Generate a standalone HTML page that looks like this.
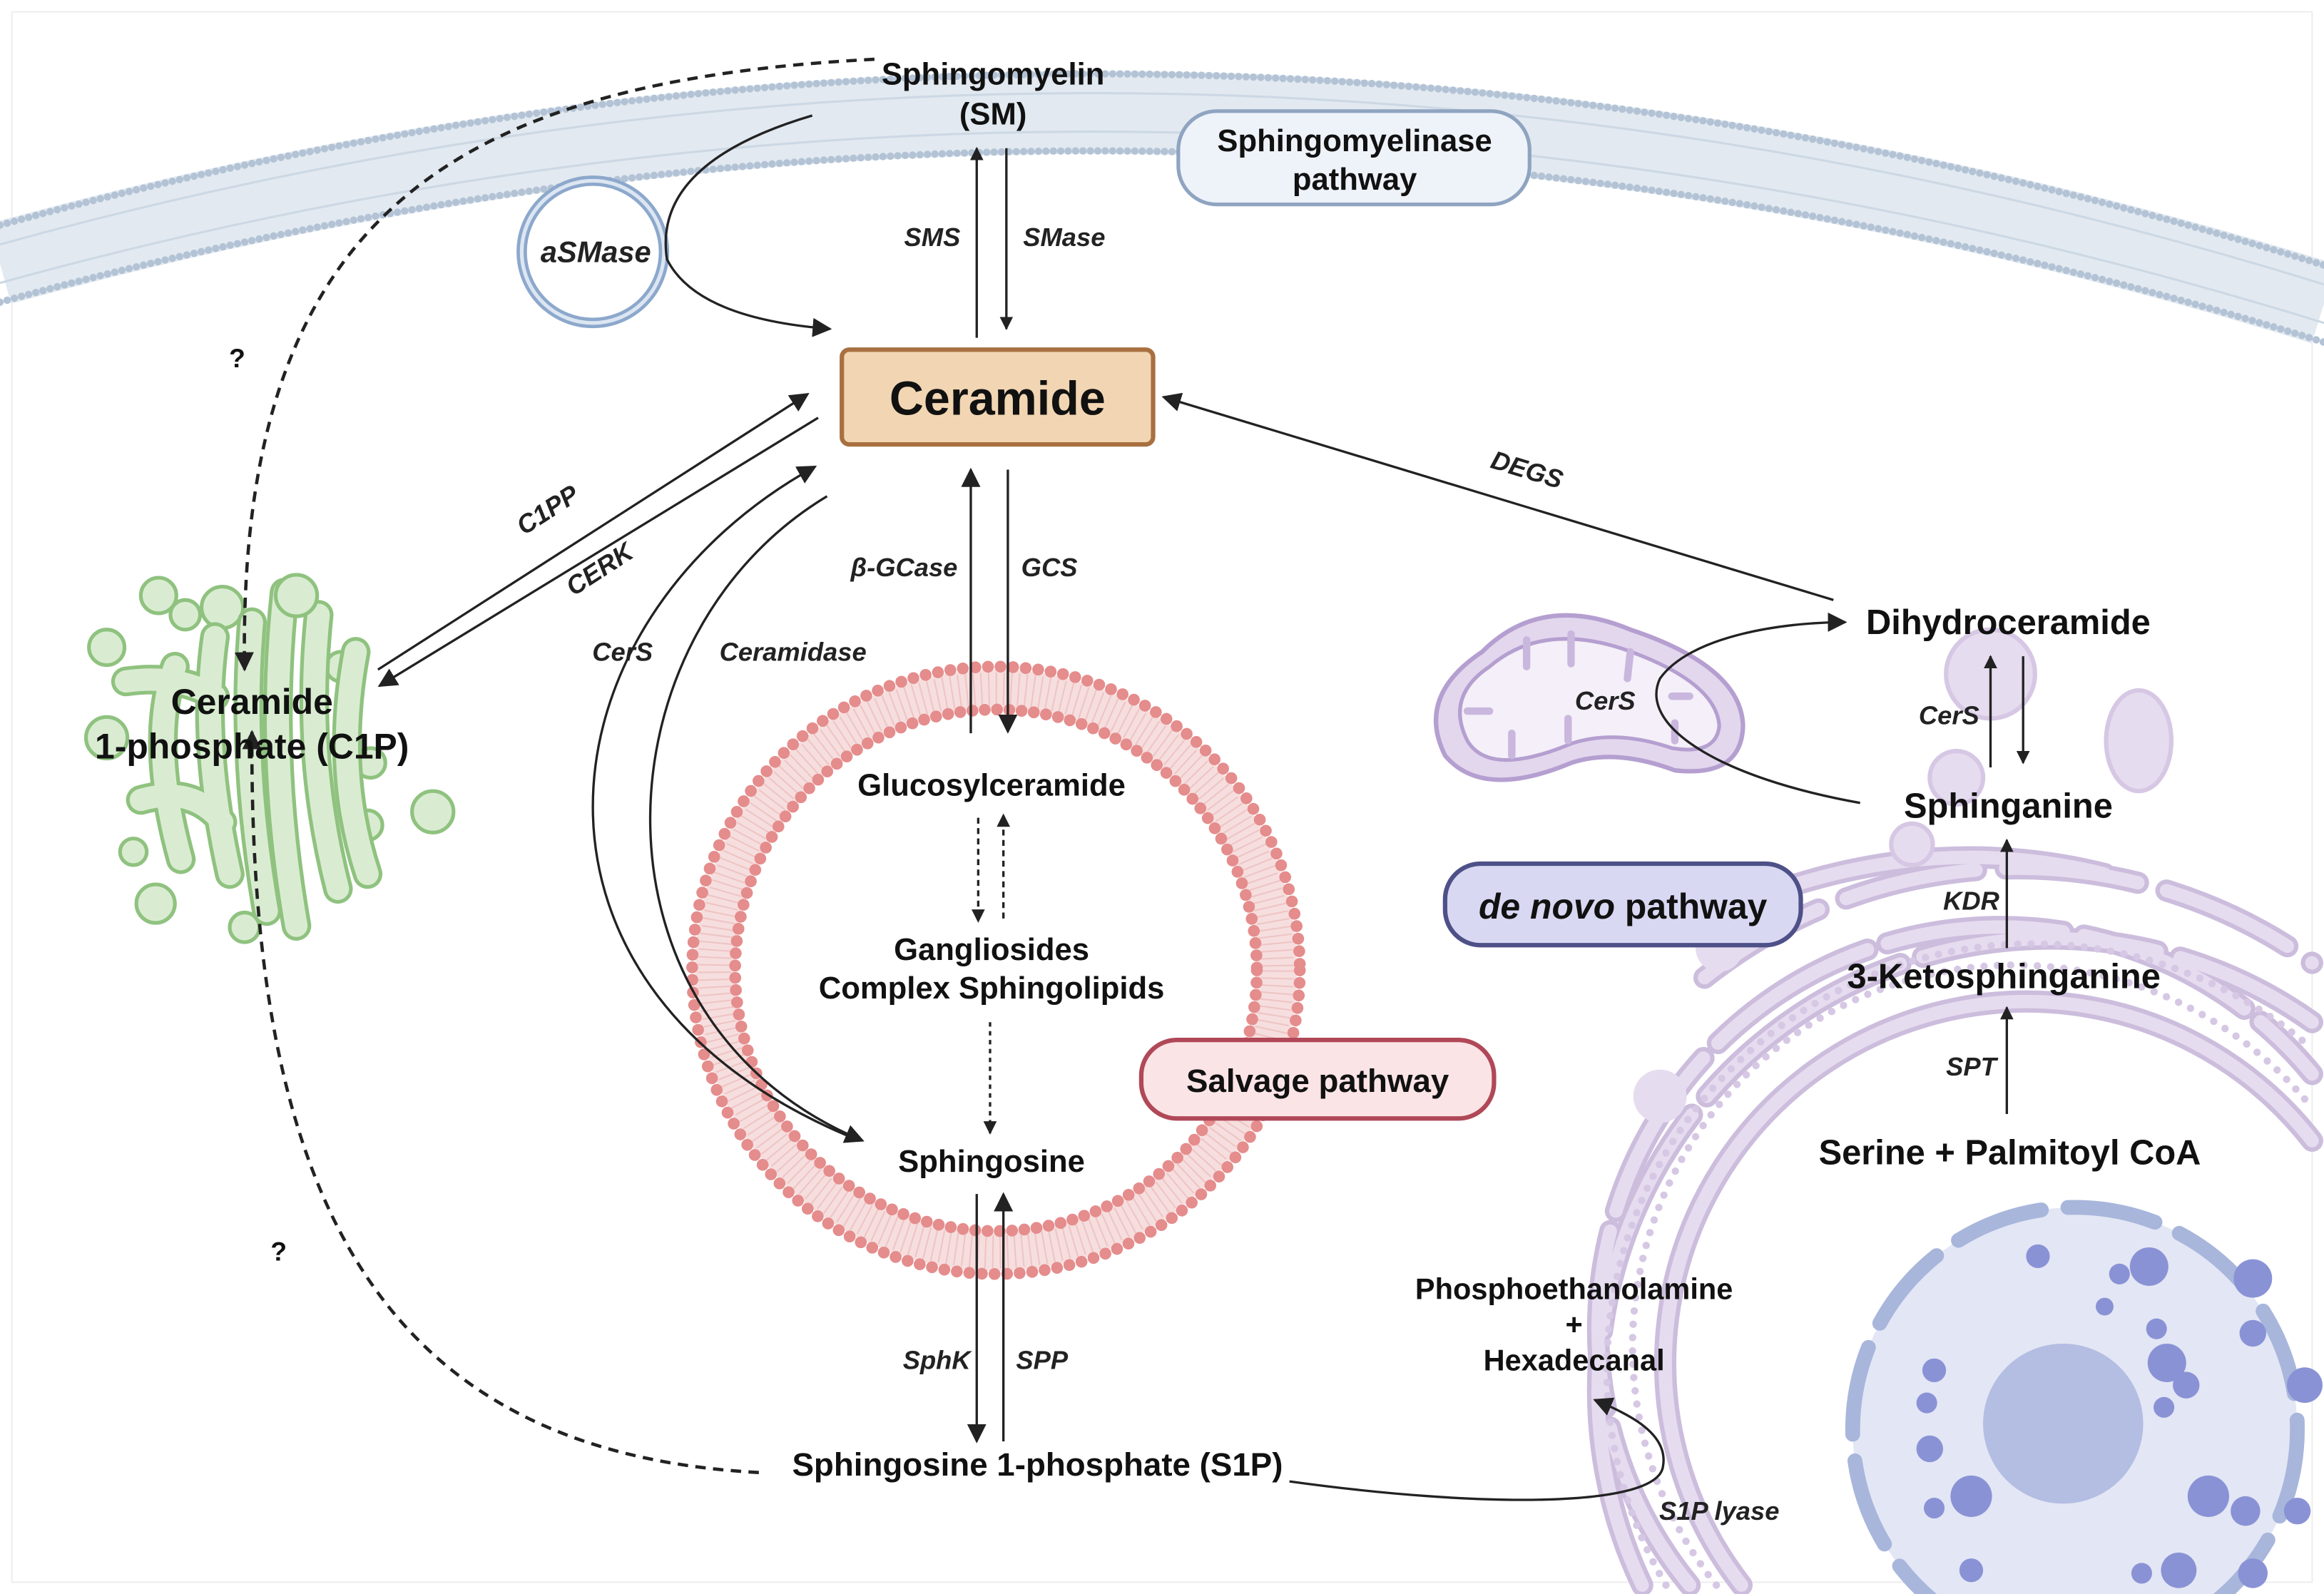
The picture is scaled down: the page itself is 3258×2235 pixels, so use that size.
<!DOCTYPE html>
<html><head><meta charset="utf-8"><style>
html,body{margin:0;padding:0;background:#fff;}
svg{display:block;}
text{font-family:"Liberation Sans",sans-serif;fill:#111;}
.b{font-weight:bold;font-size:21px;}
.i{font-style:italic;font-weight:bold;font-size:17.5px;fill:#222;}
</style></head><body>
<svg width="3258" height="2235" viewBox="0 0 1568 1076" preserveAspectRatio="none" xmlns="http://www.w3.org/2000/svg">
<defs>
<marker id="a" viewBox="0 0 10 10" refX="9" refY="5" markerWidth="9" markerHeight="9" markerUnits="userSpaceOnUse" orient="auto"><path d="M0,0 L10,5 L0,10 z" fill="#222"/></marker>
<marker id="A" viewBox="0 0 10 10" refX="9" refY="5" markerWidth="13" markerHeight="13" markerUnits="userSpaceOnUse" orient="auto"><path d="M0,0 L10,5 L0,10 z" fill="#222"/></marker>
</defs>
<rect x="0" y="0" width="1568" height="1076" fill="#fff"/>
<rect x="8" y="8" width="1552" height="1060" fill="none" stroke="#eee" stroke-width="1"/>

<!-- plasma membrane -->
<path d="M0 178 Q784 -39 1568 205" fill="none" stroke="#e2e9f0" stroke-width="56"/>
<path d="M0 152 Q784 -65 1568 179" fill="none" stroke="#b3c3d5" stroke-width="5" stroke-dasharray="0 5" stroke-linecap="round"/>
<path d="M0 204 Q784 -13 1568 231" fill="none" stroke="#b3c3d5" stroke-width="5" stroke-dasharray="0 5" stroke-linecap="round"/>
<path d="M0 165 Q784 -52 1568 192" fill="none" stroke="#ccd8e4" stroke-width="1.5"/>
<path d="M0 191 Q784 -26 1568 218" fill="none" stroke="#ccd8e4" stroke-width="1.5"/>

<!-- ER + nucleus -->
<g fill="none" stroke-linecap="round">
<g stroke="#ccbddd" stroke-width="15">
<path d="M1175 1070 A235 235 0 0 1 1560 770"/>
<path d="M1140 1070 A270 270 0 0 1 1560 725" stroke-dasharray="120 14"/>
<path d="M1108 1070 A305 305 0 0 1 1560 690" stroke-dasharray="160 16"/>
<path d="M1150 660 A340 340 0 0 1 1560 650" stroke-dasharray="90 20"/>
<path d="M1175 610 Q1300 560 1420 590" />
</g>
<g stroke="#e6dcef" stroke-width="9">
<path d="M1175 1070 A235 235 0 0 1 1560 770"/>
<path d="M1140 1070 A270 270 0 0 1 1560 725" stroke-dasharray="120 14"/>
<path d="M1108 1070 A305 305 0 0 1 1560 690" stroke-dasharray="160 16"/>
<path d="M1150 660 A340 340 0 0 1 1560 650" stroke-dasharray="90 20"/>
<path d="M1175 610 Q1300 560 1420 590" />
</g>
<path d="M1158 1070 A252 252 0 0 1 1560 748" stroke="#d6c8e4" stroke-width="5" stroke-dasharray="0 9"/>
<path d="M1124 1070 A287 287 0 0 1 1560 708" stroke="#d6c8e4" stroke-width="5" stroke-dasharray="0 9"/>
</g>
<circle cx="1320" cy="525" r="18" fill="#e6dcef" stroke="#d6c8e4" stroke-width="3"/>
<circle cx="1290" cy="570" r="14" fill="#e6dcef" stroke="#d6c8e4" stroke-width="3"/>
<circle cx="1343" cy="455" r="30" fill="#e6dcef" stroke="#d6c8e4" stroke-width="3"/>
<ellipse cx="1443" cy="500" rx="22" ry="34" fill="#e6dcef" stroke="#d6c8e4" stroke-width="3"/>
<circle cx="1160" cy="640" r="16" fill="#e6dcef"/>
<circle cx="1120" cy="740" r="18" fill="#e6dcef"/>
<circle cx="1400" cy="965" r="150" fill="#e3e6f4"/>
<circle cx="1400" cy="965" r="150" fill="none" stroke="#a8b6dc" stroke-width="10" stroke-dasharray="60 18" stroke-linecap="round"/>
<circle cx="1392" cy="961" r="54" fill="#b4bde2"/>
<g fill="#8a92d6">
<circle cx="1375" cy="848" r="8"/><circle cx="1450" cy="855" r="13"/><circle cx="1430" cy="860" r="7"/><circle cx="1520" cy="863" r="13"/>
<circle cx="1420" cy="882" r="6"/><circle cx="1520" cy="900" r="9"/><circle cx="1305" cy="925" r="8"/><circle cx="1300" cy="947" r="7"/>
<circle cx="1302" cy="978" r="9"/><circle cx="1462" cy="920" r="13"/><circle cx="1475" cy="935" r="9"/><circle cx="1455" cy="897" r="7"/>
<circle cx="1555" cy="935" r="12"/><circle cx="1460" cy="950" r="7"/><circle cx="1330" cy="1010" r="14"/><circle cx="1490" cy="1010" r="14"/>
<circle cx="1515" cy="1020" r="10"/><circle cx="1305" cy="1018" r="7"/><circle cx="1550" cy="1020" r="9"/><circle cx="1330" cy="1060" r="8"/>
<circle cx="1470" cy="1060" r="12"/><circle cx="1445" cy="1062" r="7"/><circle cx="1520" cy="1062" r="10"/>
</g>

<!-- mitochondrion -->
<path d="M1000 440 Q1040 400 1100 425 Q1175 450 1176 490 Q1175 525 1130 520 Q1090 505 1060 515 Q1000 540 975 510 Q955 470 1000 440 Z" fill="#e3d7ee" stroke="#b59fd0" stroke-width="3"/>
<path d="M1005 450 Q1040 420 1095 438 Q1158 460 1160 490 Q1158 510 1128 505 Q1090 492 1060 502 Q1005 525 990 500 Q975 470 1005 450 Z" fill="#f4eff8" stroke="#b59fd0" stroke-width="2.5"/>
<g stroke="#c9b7de" stroke-width="5" stroke-linecap="round" fill="none">
<path d="M1030 432 L1030 450"/><path d="M1060 428 L1060 448"/><path d="M1100 440 L1098 458"/><path d="M1128 470 L1140 470"/>
<path d="M990 480 L1005 480"/><path d="M1020 510 L1020 495"/><path d="M1058 500 L1058 485"/><path d="M1130 500 L1130 488"/>
</g>

<!-- Golgi -->
<g stroke="#8fc27f" stroke-width="2.5" fill="#d9ecd1">
<circle cx="107" cy="402" r="12"/><circle cx="125" cy="415" r="10"/><circle cx="72" cy="437" r="12"/><circle cx="72" cy="498" r="14"/>
<circle cx="90" cy="575" r="9"/><circle cx="105" cy="610" r="13"/><circle cx="165" cy="626" r="10"/><circle cx="248" cy="557" r="10"/>
<circle cx="292" cy="548" r="14"/><circle cx="230" cy="450" r="10"/><circle cx="250" cy="515" r="10"/><circle cx="150" cy="410" r="14"/>
</g>
<g fill="none" stroke-linecap="round">
<g stroke="#8fc27f" stroke-width="20">
<path d="M192 400 Q180 510 200 625"/><path d="M215 415 Q205 510 228 600"/><path d="M240 440 Q225 520 248 590"/>
<path d="M170 420 Q162 510 180 615"/><path d="M145 430 Q135 500 155 590"/><path d="M118 450 Q100 500 122 580"/>
<path d="M85 460 Q120 455 145 470"/><path d="M95 540 Q130 530 150 555"/>
</g>
<g stroke="#d9ecd1" stroke-width="15">
<path d="M192 400 Q180 510 200 625"/><path d="M215 415 Q205 510 228 600"/><path d="M240 440 Q225 520 248 590"/>
<path d="M170 420 Q162 510 180 615"/><path d="M145 430 Q135 500 155 590"/><path d="M118 450 Q100 500 122 580"/>
<path d="M85 460 Q120 455 145 470"/><path d="M95 540 Q130 530 150 555"/>
</g>
</g>
<circle cx="200" cy="402" r="14" fill="#d9ecd1" stroke="#8fc27f" stroke-width="2.5"/>

<!-- lysosome ring -->
<circle cx="672" cy="655" r="190" fill="none" stroke="#f6dede" stroke-width="26"/>
<circle cx="672" cy="655" r="190" fill="none" stroke="#efc4c4" stroke-width="22" stroke-dasharray="1 4"/>
<circle cx="672" cy="655" r="205" fill="none" stroke="#e58c8c" stroke-width="8" stroke-dasharray="0 8.5" stroke-linecap="round"/>
<circle cx="672" cy="655" r="176" fill="none" stroke="#e58c8c" stroke-width="8" stroke-dasharray="0 8.3" stroke-linecap="round"/>

<!-- aSMase vesicle -->
<circle cx="400" cy="170" r="48" fill="#fff" stroke="#8ca8cc" stroke-width="7"/>
<circle cx="400" cy="170" r="48" fill="none" stroke="#dce6f2" stroke-width="2.5"/>
<text x="402" y="177" class="i" text-anchor="middle" style="font-size:20px">aSMase</text>

<!-- pathway labels -->
<rect x="795" y="75" width="237" height="63" rx="26" fill="#eef3fa" stroke="#8fa4c0" stroke-width="2.5"/>
<text x="914" y="102" class="b" text-anchor="middle">Sphingomyelinase</text>
<text x="914" y="128" class="b" text-anchor="middle">pathway</text>
<rect x="975" y="583" width="240" height="55" rx="24" fill="#d9d8f2" stroke="#4e5088" stroke-width="3"/>
<text x="1095" y="620" class="b" text-anchor="middle" style="font-size:24px"><tspan font-style="italic">de novo</tspan> pathway</text>
<rect x="770" y="702" width="238" height="53" rx="24" fill="#fbe4e6" stroke="#b04858" stroke-width="3"/>
<text x="889" y="737" class="b" text-anchor="middle" style="font-size:22px">Salvage pathway</text>

<!-- Ceramide box -->
<rect x="568" y="236" width="210" height="64" rx="5" fill="#f2d6b3" stroke="#a87040" stroke-width="3"/>
<text x="673" y="280" text-anchor="middle" font-weight="bold" font-size="32">Ceramide</text>

<!-- arrows -->
<g stroke="#222" stroke-width="1.6" fill="none">
<line x1="659" y1="228" x2="659" y2="100" marker-end="url(#a)"/>
<line x1="679" y1="100" x2="679" y2="222" marker-end="url(#a)"/>
<path d="M548 78 Q440 110 450 175 Q470 215 560 222" marker-end="url(#A)"/>
<line x1="255" y1="452" x2="545" y2="266" marker-end="url(#A)"/>
<line x1="552" y1="282" x2="256" y2="463" marker-end="url(#A)"/>
<path d="M580 770 C330 670 360 420 550 315" marker-end="url(#A)"/>
<path d="M558 335 C400 430 390 690 582 770" marker-end="url(#A)"/>
<line x1="655" y1="495" x2="655" y2="317" marker-end="url(#A)"/>
<line x1="680" y1="317" x2="680" y2="494" marker-end="url(#A)"/>
<line x1="660" y1="552" x2="660" y2="622" stroke-dasharray="4 3" marker-end="url(#a)"/>
<line x1="677" y1="620" x2="677" y2="550" stroke-dasharray="4 3" marker-end="url(#a)"/>
<line x1="668" y1="690" x2="668" y2="765" stroke-dasharray="3 3" marker-end="url(#a)"/>
<line x1="659" y1="806" x2="659" y2="973" marker-end="url(#A)"/>
<line x1="677" y1="973" x2="677" y2="806" marker-end="url(#A)"/>
<path d="M590 40 C300 55 160 150 165 452" stroke-width="2.2" stroke-dasharray="7 5" marker-end="url(#A)"/>
<path d="M512 994 C250 980 168 800 170 494" stroke-width="2.2" stroke-dasharray="7 5" marker-end="url(#A)"/>
<line x1="1237" y1="405" x2="785" y2="268" marker-end="url(#A)"/>
<path d="M1255 542 C1160 525 1105 490 1120 458 C1140 430 1200 420 1245 420" marker-end="url(#A)"/>
<line x1="1343" y1="518" x2="1343" y2="443" marker-end="url(#a)"/>
<line x1="1365" y1="443" x2="1365" y2="515" marker-end="url(#a)"/>
<line x1="1354" y1="640" x2="1354" y2="567" marker-end="url(#a)"/>
<line x1="1354" y1="752" x2="1354" y2="680" marker-end="url(#a)"/>
<path d="M870 1000 C1000 1018 1118 1018 1122 990 C1126 968 1100 955 1076 945" marker-end="url(#A)"/>
</g>

<!-- labels -->
<text x="670" y="57" class="b" text-anchor="middle">Sphingomyelin</text>
<text x="670" y="84" class="b" text-anchor="middle">(SM)</text>
<text x="629" y="166" class="i" text-anchor="middle">SMS</text>
<text x="718" y="166" class="i" text-anchor="middle">SMase</text>
<text x="160" y="248" class="b" text-anchor="middle" style="font-size:18px">?</text>
<text x="188" y="851" class="b" text-anchor="middle" style="font-size:18px">?</text>
<text x="370" y="350" class="i" text-anchor="middle" transform="rotate(-33 370 345)">C1PP</text>
<text x="405" y="390" class="i" text-anchor="middle" transform="rotate(-33 405 385)">CERK</text>
<text x="420" y="446" class="i" text-anchor="middle">CerS</text>
<text x="535" y="446" class="i" text-anchor="middle">Ceramidase</text>
<text x="610" y="389" class="i" text-anchor="middle">β-GCase</text>
<text x="708" y="389" class="i" text-anchor="middle">GCS</text>
<text x="1030" y="323" class="i" text-anchor="middle" transform="rotate(17 1030 318)">DEGS</text>
<text x="170" y="482" class="b" text-anchor="middle" style="font-size:24px">Ceramide</text>
<text x="170" y="512" class="b" text-anchor="middle" style="font-size:24px">1-phosphate (C1P)</text>
<text x="669" y="537" class="b" text-anchor="middle">Glucosylceramide</text>
<text x="669" y="648" class="b" text-anchor="middle">Gangliosides</text>
<text x="669" y="674" class="b" text-anchor="middle">Complex Sphingolipids</text>
<text x="669" y="791" class="b" text-anchor="middle">Sphingosine</text>
<text x="632" y="924" class="i" text-anchor="middle">SphK</text>
<text x="703" y="924" class="i" text-anchor="middle">SPP</text>
<text x="700" y="996" class="b" text-anchor="middle" style="font-size:22px">Sphingosine 1-phosphate (S1P)</text>
<text x="1062" y="877" class="b" text-anchor="middle" style="font-size:20px">Phosphoethanolamine</text>
<text x="1062" y="901" class="b" text-anchor="middle" style="font-size:20px">+</text>
<text x="1062" y="925" class="b" text-anchor="middle" style="font-size:20px">Hexadecanal</text>
<text x="1160" y="1026" class="i" text-anchor="middle">S1P lyase</text>
<text x="1083" y="479" class="i" text-anchor="middle">CerS</text>
<text x="1355" y="428" class="b" text-anchor="middle" style="font-size:23.5px">Dihydroceramide</text>
<text x="1315" y="489" class="i" text-anchor="middle">CerS</text>
<text x="1355" y="552" class="b" text-anchor="middle" style="font-size:23.5px">Sphinganine</text>
<text x="1330" y="614" class="i" text-anchor="middle">KDR</text>
<text x="1352" y="667" class="b" text-anchor="middle" style="font-size:23.5px">3-Ketosphinganine</text>
<text x="1330" y="726" class="i" text-anchor="middle">SPT</text>
<text x="1356" y="786" class="b" text-anchor="middle" style="font-size:23.5px">Serine + Palmitoyl CoA</text>
</svg>
</body></html>
